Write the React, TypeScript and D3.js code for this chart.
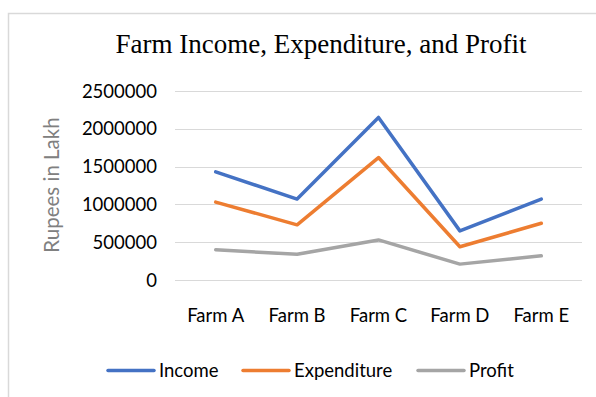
import React from "react";
import * as d3 from "d3";

const categories = ["Farm A", "Farm B", "Farm C", "Farm D", "Farm E"];
const income = [1430000, 1070000, 2150000, 650000, 1070000];
const expenditure = [1030000, 730000, 1620000, 440000, 750000];
const profit = [400000, 340000, 530000, 210000, 320000];
const yTicks = [0, 500000, 1000000, 1500000, 2000000, 2500000];
const seriesNames = ["Income", "Expenditure", "Profit"];
const seriesColors = ["#4472C4", "#ED7D31", "#A5A5A5"];

const W = 596;
const H = 397;
const SANS = "Lato, 'Open Sans', sans-serif";

export default function App() {
  const x = d3.scaleBand<string>().domain(categories).range([175, 582]).padding(0);
  const y = d3.scaleLinear().domain([0, 2500000]).range([280, 91]);
  const line = d3
    .line<number>()
    .x((_, i) => (x(categories[i]) as number) + x.bandwidth() / 2)
    .y((v) => y(v));
  const series = [income, expenditure, profit];
  const legendX = [108, 243, 418];

  return (
    <svg
      width={W}
      height={H}
      style={{ position: "absolute", left: 0, top: 0, background: "#fff" }}
    >
      <rect x={0} y={0} width={W} height={H} fill="#fff" />
      <path d={`M8.5,${H} V13.5 H${W}`} fill="none" stroke="#d9d9d9" strokeWidth={1.5} />
      <text
        x={321}
        y={53}
        textAnchor="middle"
        fontFamily="'Liberation Serif', 'Times New Roman', serif"
        fontSize={27}
        fill="#000"
      >
        Farm Income, Expenditure, and Profit
      </text>
      {yTicks.map((t) => (
        <g key={t}>
          <line x1={175} x2={582} y1={Math.round(y(t)) + 0.5} y2={Math.round(y(t)) + 0.5} stroke="#d9d9d9" strokeWidth={1} />
          <text x={157} y={y(t) + 6.5} textAnchor="end" fontFamily={SANS} fontSize={18.5} fill="#000">
            {t}
          </text>
        </g>
      ))}
      <text
        transform={`translate(59,185) rotate(-90)`}
        textAnchor="middle"
        fontFamily={SANS}
        fontSize={20.5}
        fill="#808080"
      >
        Rupees in Lakh
      </text>
      {categories.map((c) => (
        <text
          key={c}
          x={(x(c) as number) + x.bandwidth() / 2}
          y={322}
          textAnchor="middle"
          fontFamily={SANS}
          fontSize={18.5}
          fill="#000"
        >
          {c}
        </text>
      ))}
      {series.map((s, i) => (
        <path
          key={seriesNames[i]}
          d={line(s) || ""}
          fill="none"
          stroke={seriesColors[i]}
          strokeWidth={3.5}
          strokeLinejoin="round"
          strokeLinecap="round"
        />
      ))}
      {seriesNames.map((n, i) => (
        <g key={n}>
          <line x1={legendX[i]} x2={legendX[i] + 46} y1={370.5} y2={370.5} stroke={seriesColors[i]} strokeWidth={3.5} strokeLinecap="round" />
          <text x={legendX[i] + 51} y={377} fontFamily={SANS} fontSize={18.5} fill="#000">
            {n}
          </text>
        </g>
      ))}
    </svg>
  );
}
